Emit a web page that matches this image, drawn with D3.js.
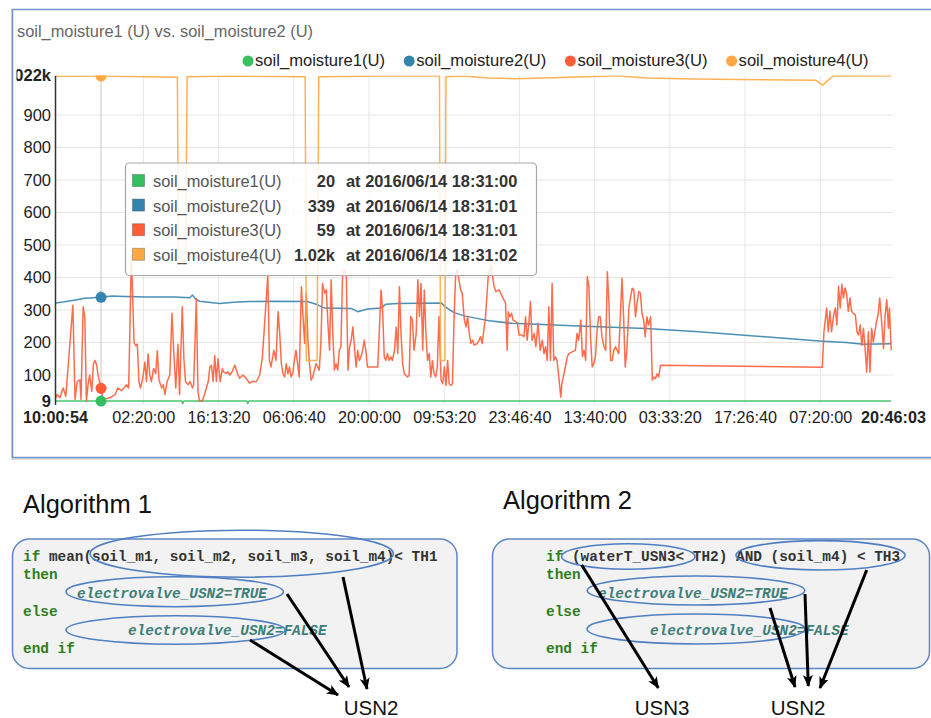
<!DOCTYPE html>
<html><head><meta charset="utf-8">
<script src="https://cdn.jsdelivr.net/npm/d3@7"></script>
<style>
body{margin:0;background:#fff}
svg{display:block}
text{font-family:"Liberation Sans",Arial,sans-serif}
.mono{font-family:"Liberation Mono","DejaVu Sans Mono",monospace;font-weight:bold;white-space:pre}
</style>
</head><body>
<svg id="c" width="931" height="718"></svg>
<script>
// ---------------- DATA ----------------
const chartTitle = "soil_moisture1 (U) vs. soil_moisture2 (U)";
const seriesNames = ["soil_moisture1(U)", "soil_moisture2(U)", "soil_moisture3(U)", "soil_moisture4(U)"];
const seriesColors = ["#34c061", "#3584ae", "#ff5c38", "#ffa844"];
const startTime = "2016-06-14T10:00:54Z";
const endTime = "2016-06-20T20:46:03Z";
const xTickTimes = ["2016-06-15T02:20:00Z","2016-06-15T16:13:20Z","2016-06-16T06:06:40Z","2016-06-16T20:00:00Z",
  "2016-06-17T09:53:20Z","2016-06-17T23:46:40Z","2016-06-18T13:40:00Z","2016-06-19T03:33:20Z",
  "2016-06-19T17:26:40Z","2016-06-20T07:20:00Z"];
const yTickValues = [9,100,200,300,400,500,600,700,800,900,1022];

// series: [hours since start, value]
const sm1 = [[0,20],[23.4,20],[23.6,12],[23.8,20],[35.4,20],[35.6,12],[35.8,20],[154.42,20]];
const sm2 = [[0,322],[1.5,325],[3.5,330],[5.5,336],[8.5,339],[10.5,343],[13,342],[17,340],[22,340],[24.9,338],
  [25.4,346],[26.0,333],[26.7,327],[30.4,320],[33,324],[35.9,326],[40,327],[46.6,326],[48.5,316],[49.8,306],
  [54.7,305],[55.9,295],[57.7,303],[60.2,306],[61.1,318],[63.3,320],[71.3,322],[72.2,308],[73.7,292],[75.6,282],
  [78.6,272],[80.2,267],[84.4,259],[96.7,251],[109.1,243],[118.9,233],[141.1,205],[146.1,200],[149.3,195],[154.42,196]];
const sm3 = [[0,25],[0.4,40],[0.9,30],[1.5,60],[2.0,35],[3.3,315],[3.7,25],[4.1,80],[4.6,85],[4.8,25],[5.2,310],
  [5.5,280],[5.8,20],[6.1,70],[6.4,100],[6.8,50],[7.1,135],[7.4,145],[7.7,130],[8.0,95],[8.5,59],[8.8,30],[9.0,25],
  [10.1,30],[11.1,40],[11.6,60],[12.3,52],[13.2,70],[13.6,60],[13.7,135],[14.1,470],[14.6,200],[14.9,190],[15.2,195],
  [15.5,80],[15.8,60],[16.2,90],[16.6,140],[16.9,80],[17.2,165],[17.5,100],[17.8,80],[18.2,120],[18.6,105],[18.9,175],
  [19.2,85],[19.7,60],[20.0,70],[20.3,40],[20.7,80],[21.2,100],[21.6,290],[21.9,180],[22.3,60],[22.7,195],[23.0,40],
  [23.5,310],[23.8,150],[24.1,80],[24.6,70],[24.9,80],[25.4,60],[25.6,70],[26.1,335],[26.4,50],[26.7,20],[27.2,20],
  [27.6,40],[28.3,80],[28.6,125],[28.9,130],[29.2,80],[29.5,160],[29.8,80],[30.1,150],[30.5,80],[30.9,120],[31.1,110],
  [31.6,105],[31.9,110],[32.3,100],[32.7,110],[33.2,130],[33.8,100],[34.1,90],[34.7,100],[35.3,90],[35.9,75],[36.5,80],
  [37.2,80],[37.8,100],[38.3,155],[39.3,408],[39.6,145],[39.9,125],[40.4,176],[40.8,145],[41.2,295],[41.5,228],
  [41.8,135],[42.1,104],[42.4,94],[42.7,135],[43.0,104],[43.3,125],[43.6,94],[43.9,104],[44.2,145],[44.5,176],
  [44.8,135],[45.1,94],[45.5,372],[45.8,280],[46.1,197],[46.4,352],[46.7,207],[47.0,135],[47.3,84],[47.6,94],
  [47.9,115],[48.2,135],[48.5,125],[48.8,115],[49.1,197],[49.4,382],[49.8,352],[50.1,362],[50.4,259],[50.7,176],
  [51.0,393],[51.3,228],[51.6,115],[51.9,135],[52.2,115],[52.5,176],[52.8,187],[53.1,408],[53.4,424],[53.8,403],
  [54.1,115],[54.4,187],[54.7,207],[55.0,248],[55.3,187],[55.6,125],[55.9,176],[56.2,145],[56.5,156],[56.8,176],
  [57.1,207],[57.4,176],[57.7,125],[59.6,125],[59.9,238],[60.2,362],[60.5,300],[60.8,156],[61.1,145],[61.4,166],
  [61.7,145],[62.0,156],[62.3,145],[62.7,176],[63.0,248],[63.3,166],[63.6,372],[63.9,228],[64.2,135],[64.5,104],
  [65.1,94],[65.4,99],[65.7,280],[66.0,269],[66.3,176],[66.7,228],[67.0,393],[67.3,280],[67.6,382],[67.9,176],
  [68.2,362],[68.5,228],[68.8,145],[69.1,166],[69.4,94],[69.7,145],[70.0,104],[70.3,94],[70.6,125],[70.9,280],
  [71.3,84],[71.6,73],[71.9,125],[72.2,68],[72.5,145],[72.8,73],[73.1,68],[73.4,73],[73.7,280],[74.0,413],[74.3,424],
  [74.6,393],[74.9,362],[75.2,352],[75.6,269],[75.9,248],[76.2,280],[76.5,228],[76.8,197],[77.1,207],[77.4,192],
  [78.0,197],[78.6,218],[78.9,197],[79.5,279],[80.0,403],[80.5,439],[80.8,403],[81.1,372],[81.4,357],[82.0,362],
  [82.3,352],[82.9,331],[83.2,321],[83.5,176],[83.7,295],[84.0,279],[84.3,290],[84.6,269],[85.1,264],[85.4,259],
  [85.7,223],[86.2,223],[86.6,218],[86.9,279],[87.2,207],[87.5,259],[87.8,326],[88.1,207],[88.5,228],[88.8,187],
  [89.2,259],[89.6,176],[90.0,207],[90.3,166],[90.6,187],[90.9,145],[91.2,310],[91.5,145],[91.8,382],[92.1,145],
  [92.4,156],[92.7,145],[93.1,84],[93.4,32],[93.6,73],[94.0,104],[94.6,156],[94.9,166],[95.5,171],[96.1,176],
  [96.4,228],[96.7,207],[97.1,269],[97.4,156],[97.7,176],[98.0,145],[98.3,403],[98.6,372],[98.9,218],[99.2,125],
  [99.5,135],[99.8,156],[100.1,238],[100.4,279],[100.7,279],[101.0,218],[101.4,187],[101.7,176],[102.0,418],
  [102.3,321],[102.6,145],[102.9,145],[103.2,176],[103.5,187],[103.8,176],[104.1,166],[104.7,398],[105.0,279],
  [105.3,125],[105.6,176],[106.0,310],[106.3,341],[106.6,367],[106.9,362],[107.2,279],[107.5,321],[107.8,357],
  [108.1,352],[108.4,290],[108.7,269],[109.0,218],[109.3,279],[109.6,254],[110.0,279],[110.3,84],[110.6,94],
  [110.9,89],[111.2,104],[111.5,94],[111.8,130],[141.7,124],[142.0,233],[142.5,306],[142.8,233],[143.1,296],
  [143.4,233],[143.8,285],[144.1,306],[144.4,254],[144.7,373],[145.0,306],[145.3,379],[145.6,337],[145.9,368],
  [146.2,348],[146.5,296],[146.8,337],[147.1,296],[147.4,290],[147.8,285],[148.1,233],[148.4,223],[148.7,254],
  [149.0,192],[149.3,244],[149.6,181],[149.9,109],[150.2,233],[150.5,109],[150.8,244],[151.1,202],[151.4,233],
  [151.7,264],[152.0,285],[152.3,337],[152.7,254],[153.0,181],[153.3,285],[153.6,332],[153.9,244],[154.1,306],[154.42,176]];
const sm4 = [[0,1019],[8.5,1020],[17,1018],[22.6,1016],[22.8,450],[24.1,450],[24.4,1018],[32,1020],[46.2,1018],
  [46.4,145],[48.4,145],[48.7,1018],[60,1020],[71.0,1020],[71.2,145],[72.0,145],[72.2,1018],[75.6,1020],[80,1014],
  [85,1012],[92,1015],[103.7,1021],[109.3,1014],[118,1011],[140.5,1007],[141.8,992],[142.4,1002],[143.8,1021],[154.42,1020]];

const hoverHour = 8.5;
const hoverValues = [20, 339, 59, 1020];
const tooltipValues = ["20", "339", "59", "1.02k"];
const tooltipTimes = ["at 2016/06/14 18:31:00","at 2016/06/14 18:31:01","at 2016/06/14 18:31:01","at 2016/06/14 18:31:02"];

const algo1Title = "Algorithm 1";
const algo2Title = "Algorithm 2";
const algo1Code = [
  [["if","kw"],[" mean(soil_m1, soil_m2, soil_m3, soil_m4)< TH1","tx"]],
  [["then","kw"]],
  [["electrovalve_USN2=TRUE","it"]],
  [["else","kw"]],
  [["electrovalve_USN2=FALSE","it"]],
  [["end if","kw"]]
];
const algo2Code = [
  [["if","kw"],[" (waterT_USN3< TH2) AND (soil_m4) < TH3","tx"]],
  [["then","kw"]],
  [["electrovalve_USN2=TRUE","it"]],
  [["else","kw"]],
  [["electrovalve_USN2=FALSE","it"]],
  [["end if","kw"]]
];
const nodeLabels1 = ["USN2"];
const nodeLabels2 = ["USN3", "USN2"];

// ---------------- DRAW ----------------
const svg = d3.select("#c");
const defs = svg.append("defs");
const parse = d3.isoParse;
const t0 = parse(startTime), t1 = parse(endTime);
const toDate = h => new Date(t0.getTime() + h * 3600000);

const plot = {l:55, r:893, t:75.4, b:404.6};
const x = d3.scaleUtc().domain([t0, t1]).range([plot.l, plot.r]);
const y = d3.scaleLinear().domain([9, 1022]).range([plot.b, plot.t]);

// frame
svg.append("rect").attr("x",12.5).attr("y",10.5).attr("width",940).attr("height",448)
  .attr("fill","none").attr("stroke","#ddd").attr("stroke-width",3);
svg.append("rect").attr("x",12.5).attr("y",9.5).attr("width",940).attr("height",448)
  .attr("fill","#fff").attr("stroke","#7194c6").attr("stroke-width",1.5);

svg.append("text").attr("x",17).attr("y",37).attr("font-size",16.4).attr("fill","#666").text(chartTitle);

// legend
const lg = svg.append("g");
seriesNames.forEach((n,i)=>{
  const cx = 248 + i*161.2;
  lg.append("circle").attr("cx",cx).attr("cy",61).attr("r",5.5).attr("fill",seriesColors[i]);
  lg.append("text").attr("x",cx+7).attr("y",65.5).attr("font-size",16.6).attr("fill","#222").text(n);
});

// grid
const gg = svg.append("g");
yTickValues.slice(1,-1).forEach(v=>{
  gg.append("line").attr("x1",plot.l).attr("x2",plot.r).attr("y1",y(v)).attr("y2",y(v))
    .attr("stroke","#e6e6e6").attr("stroke-width",1);
});
xTickTimes.forEach(s=>{
  const xx = x(parse(s));
  gg.append("line").attr("x1",xx).attr("x2",xx).attr("y1",plot.t).attr("y2",plot.b)
    .attr("stroke","#e6e6e6").attr("stroke-width",1);
});
// crosshair
const hx = x(toDate(hoverHour));
svg.append("line").attr("x1",hx).attr("x2",hx).attr("y1",plot.t).attr("y2",plot.b)
  .attr("stroke","#cfcfcf").attr("stroke-width",1.2);

// clip
defs.append("clipPath").attr("id","pc").append("rect")
  .attr("x",plot.l).attr("y",plot.t).attr("width",plot.r-plot.l+1).attr("height",plot.b-plot.t+12);

const line = d3.line().x(d=>x(toDate(d[0]))).y(d=>y(d[1]));
const lines = svg.append("g").attr("clip-path","url(#pc)");
[sm1, sm2, sm3, sm4].forEach((s,i)=>{
  lines.append("path").datum(s).attr("d",line).attr("fill","none")
    .attr("stroke",seriesColors[i]).attr("stroke-width",1.5).attr("stroke-opacity",0.9)
    .attr("stroke-linejoin","round");
});
// hover markers
hoverValues.forEach((v,i)=>{
  lines.append("circle").attr("cx",hx).attr("cy",y(v)).attr("r",5.5).attr("fill",seriesColors[i]);
});

// y axis (wrapped in an untransformed, clipped group)
defs.append("clipPath").attr("id","yc").append("rect").attr("x",16.5).attr("y",0).attr("width",60).attr("height",440);
const yAxis = d3.axisLeft(y).tickValues(yTickValues).tickSize(0).tickPadding(4)
  .tickFormat(d => d >= 1000 ? d3.format(".4s")(d) : d3.format("d")(d));
const ywrap = svg.append("g").attr("clip-path","url(#yc)");
const ya = ywrap.append("g").attr("transform",`translate(${plot.l},0)`).call(yAxis);
ya.select(".domain").attr("stroke","#333").attr("stroke-width",1.5);
ya.selectAll("text").attr("font-size",16.5).attr("fill","#222")
  .attr("font-family","Liberation Sans, Arial, sans-serif")
  .attr("font-weight",(d,i)=> (i===0||i===yTickValues.length-1)?"bold":"normal");
ya.selectAll(".tick").filter(d=>d===9).select("text").attr("dy","0.1em");

// x axis
const xVals = [t0, ...xTickTimes.map(parse), t1];
const xAxis = d3.axisBottom(x).tickValues(xVals).tickSize(0).tickPadding(0).tickFormat(d3.utcFormat("%H:%M:%S"));
const xa = svg.append("g").attr("transform",`translate(0,${plot.b+6})`).call(xAxis);
xa.select(".domain").remove();
xa.selectAll("text").attr("font-size",16.2).attr("fill","#222").attr("dy","0.75em")
  .attr("font-family","Liberation Sans, Arial, sans-serif")
  .attr("font-weight",(d,i)=> (i===0||i===xVals.length-1)?"bold":"normal");

// tooltip
const tt = svg.append("g");
tt.append("rect").attr("x",125.5).attr("y",163).attr("width",411).attr("height",112.5).attr("rx",4)
  .attr("fill","rgba(255,255,255,0.84)").attr("stroke","#a8a8a8").attr("stroke-width",1.2);
seriesNames.forEach((n,i)=>{
  const cy = 181 + i*24.6;
  tt.append("rect").attr("x",132.5).attr("y",cy-6.5).attr("width",12).attr("height",12)
    .attr("fill",seriesColors[i]).attr("stroke","rgba(0,0,0,0.25)").attr("stroke-width",1);
  tt.append("text").attr("x",153).attr("y",cy+6).attr("font-size",16.4).attr("fill","#555").text(n);
  tt.append("text").attr("x",335).attr("y",cy+6).attr("font-size",16.4).attr("font-weight","bold")
    .attr("text-anchor","end").attr("fill","#333").text(tooltipValues[i]);
  tt.append("text").attr("x",346).attr("y",cy+6).attr("font-size",16.4).attr("font-weight","bold")
    .attr("fill","#333").text(tooltipTimes[i]);
});

// ---------------- algorithms ----------------
defs.append("marker").attr("id","ah").attr("viewBox","0 0 12 10").attr("refX",11).attr("refY",5)
  .attr("markerWidth",12).attr("markerHeight",10).attr("markerUnits","userSpaceOnUse").attr("orient","auto")
  .append("path").attr("d","M0,0 L12,5 L0,10 L3,5 Z").attr("fill","#000");

const codeColor = {kw:"#2c7e1d", tx:"#333", it:"#3e7e77"};
function drawAlgo(g, title, tx, ty, box, code, xs, ellipses, arrows, labels) {
  g.append("text").attr("x",tx).attr("y",ty).attr("font-size",25.5).attr("fill","#111").text(title);
  g.append("rect").attr("x",box[0]).attr("y",box[1]).attr("width",box[2]).attr("height",box[3]).attr("rx",17)
    .attr("fill","#f2f2f2").attr("stroke","#5d87c4").attr("stroke-width",1.5);
  const base = [561, 579, 597.5, 616, 634.5, 653];
  code.forEach((segs,i)=>{
    const t = g.append("text").attr("class","mono").attr("x",xs[i]).attr("y",base[i]).attr("font-size",14.4);
    segs.forEach(s=>{
      t.append("tspan").text(s[0]).attr("fill",codeColor[s[1]])
        .attr("font-style", s[1]==="it" ? "italic" : "normal");
    });
  });
  ellipses.forEach(e=>{
    g.append("ellipse").attr("cx",e[0]).attr("cy",e[1]).attr("rx",e[2]).attr("ry",e[3])
      .attr("fill","none").attr("stroke","#4f7ec2").attr("stroke-width",1.6);
  });
  arrows.forEach(a=>{
    g.append("line").attr("x1",a[0]).attr("y1",a[1]).attr("x2",a[2]).attr("y2",a[3])
      .attr("stroke","#000").attr("stroke-width",3).attr("marker-end","url(#ah)");
  });
  labels.forEach(l=>{
    g.append("text").attr("x",l[1]).attr("y",715).attr("font-size",20.5).attr("fill","#111")
      .attr("text-anchor","middle").text(l[0]);
  });
}
drawAlgo(svg.append("g"), algo1Title, 23, 513, [12.5,539,444.5,129.5], algo1Code,
  [23,23,77,23,128,23],
  [[241.7,553.7,151.7,23.5],[174.7,591.7,108.7,15],[175.5,630,109.5,14.2]],
  [[343,577,367,689],[287,594,349,687],[250,640,338,695]],
  [[nodeLabels1[0],371]]);
drawAlgo(svg.append("g"), algo2Title, 503, 509, [492.5,539,437,129.5], algo2Code,
  [546,546,598,546,650,546],
  [[628.3,556.5,66.7,12.7],[820.5,555.3,84.5,14.7],[696,590.5,108.8,14.5],[696,629,109,15]],
  [[581.7,565,658.3,688],[770,608,795,687],[805,594,808.3,686],[866.7,570,820,688]],
  [[nodeLabels2[0],662],[nodeLabels2[1],798]]);
</script>
</body></html>
